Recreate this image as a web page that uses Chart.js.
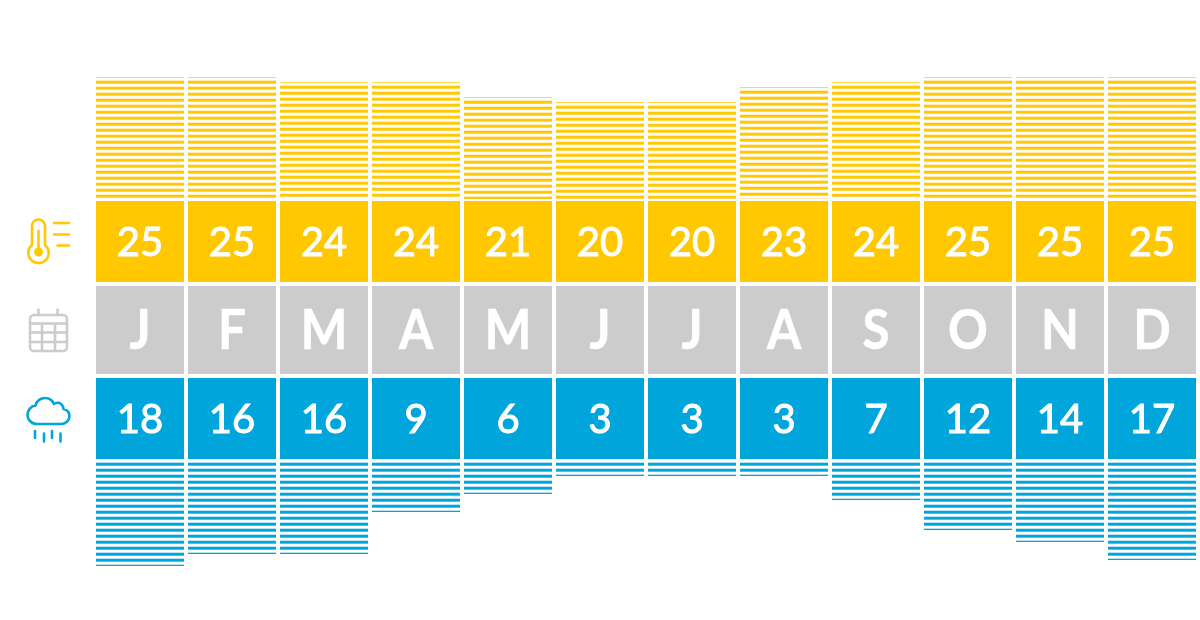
<!DOCTYPE html>
<html>
<head>
<meta charset="utf-8">
<script src="https://cdn.jsdelivr.net/npm/chart.js@4"></script>
<style>
  html, body { margin: 0; background: #fff; }
  #wrap { position: relative; width: 1200px; height: 620px; }
  #clima { position: absolute; left: 0; top: 0; }
  #icones { position: absolute; left: 0; top: 0; }
</style>
</head>
<body>
<div id="wrap">
  <canvas id="clima" width="1200" height="620"></canvas>
  <svg id="icones" width="1200" height="620" fill="none" stroke-width="2.6" stroke-linecap="round" stroke-linejoin="round">
    <g stroke="#ffc800">
      <path d="M32 245V226a6.5 6.5 0 0 1 13 0V245a10.2 10.2 0 1 1 -13 0Z"/>
      <path d="M38.5 231V250"/>
      <circle cx="38.5" cy="252" r="3.2" fill="#ffc800"/>
      <path d="M54 223H69M54 234.500H69M57.500 245.500H69"/>
    </g>
    <g stroke="#cccccc">
      <rect x="30" y="315" width="37" height="36" rx="4"/>
      <path d="M30 323.500H67M30 332.500H67M30 342H67M42 323.500V351M55 323.500V351M38.500 309.500V315M57.500 309.500V315"/>
    </g>
    <g stroke="#00a5dc">
      <path d="M37 424C31 424 27.500 419 27.500 415C27.500 410 31 406 35.500 405.500C36.500 400.500 41 398 45 398C49 398 52.500 400.500 54 404C56.500 402 60 402.500 62 405C63 406.500 63.500 407.500 63.500 409C67.500 410 69.500 413 69.500 416C69.500 420.500 65.500 424 61 424Z"/>
      <path d="M35 431V438M44 433.500V441.500M52 431V438M60.500 433.500V441.500"/>
    </g>
  </svg>
</div>
<script>
const meses = ["J","F","M","A","M","J","J","A","S","O","N","D"]
const temperatura = [25,25,24,24,21,20,20,23,24,25,25,25]
const chuva = [18,16,16,9,6,3,3,3,7,12,14,17]

const amarelo = "#ffc800"
const cinza = "#cccccc"
const azul = "#00a5dc"

// faixas das linhas de celulas, em pixels do canvas
const faixaTemp = [201,282]
const faixaMes = [286,374]
const faixaChuva = [378,459]

const altura = 620
const zeroTemp = 202, pxTemp = 5, fimTemp = 199
const zeroChuva = 458, pxChuva = 6, fimChuva = 460

// listras: periodo de 6px, a fase segue o topo da barra
const banda = [0.3,1,1,0.7,0,0]
const cache = {}
const listra = (cor,fase) => {
  const f = ((fase%6)+6)%6
  const chave = cor+f
  if (cache[chave]) return cache[chave]
  const tile = document.createElement("canvas")
  tile.width = 4
  tile.height = 6
  const t = tile.getContext("2d")
  t.fillStyle = cor
  for (let y=0;y<6;y++) {
    t.globalAlpha = banda[((y-f)+6)%6]
    t.fillRect(0,y,4,1)
  }
  cache[chave] = t.createPattern(tile,"repeat")
  return cache[chave]
}

const celula = (faixa,cor) => ({
  data: meses.map(() => faixa),
  backgroundColor: cor,
  yAxisID: "yLinhas"
})

const rotulos = {
  id: "rotulos",
  afterDatasetsDraw(chart) {
    const c = chart.ctx
    const textos = [temperatura,meses,chuva]
    const fontes = ["400 40px Lato","700 56px Lato","400 40px Lato"]
    const contorno = [1,0.6,1]
    const estreito = [1,0.88,1]
    const desce = [2,1,2]
    c.fillStyle = "#fff"
    c.strokeStyle = "#fff"
    c.textAlign = "center"
    c.textBaseline = "middle"
    textos.forEach((lista,d) => {
      c.font = fontes[d]
      c.lineWidth = contorno[d]
      chart.getDatasetMeta(d).data.forEach((el,i) => {
        const p = el.getProps(["x","y","base"],true)
        c.save()
        c.translate(p.x,(p.y+p.base)/2+desce[d])
        c.scale(estreito[d],1)
        c.fillText(String(lista[i]),0,0)
        c.strokeText(String(lista[i]),0,0)
        c.restore()
      })
    })
  }
}

let grafico = new Chart(document.getElementById("clima"), {
  type: "bar",
  plugins: [rotulos],
  data: {
    labels: meses,
    datasets: [
      celula(faixaTemp,amarelo),
      celula(faixaMes,cinza),
      celula(faixaChuva,azul),
      {
        data: temperatura,
        yAxisID: "yTemp",
        base: (zeroTemp-fimTemp)/pxTemp,
        backgroundColor: ctx => listra(amarelo,zeroTemp-pxTemp*(ctx.raw||0)+3)
      },
      {
        data: chuva,
        yAxisID: "yChuva",
        base: (fimChuva-zeroChuva)/pxChuva,
        backgroundColor: () => listra(azul,0)
      }
    ]
  },
  options: {
    responsive: false,
    animation: false,
    grouped: false,
    barThickness: 88,
    borderWidth: 0,
    inflateAmount: 0,
    layout: { padding: { left: 94, right: 2, top: 0, bottom: 0 } },
    plugins: { legend: { display: false }, tooltip: { enabled: false } },
    scales: {
      x: { display: false },
      yLinhas: { display: false, min: 0, max: altura, reverse: true },
      yTemp: { display: false, min: -(altura-zeroTemp)/pxTemp, max: zeroTemp/pxTemp },
      yChuva: { display: false, min: -zeroChuva/pxChuva, max: (altura-zeroChuva)/pxChuva, reverse: true }
    }
  }
})
</script>
</body>
</html>
